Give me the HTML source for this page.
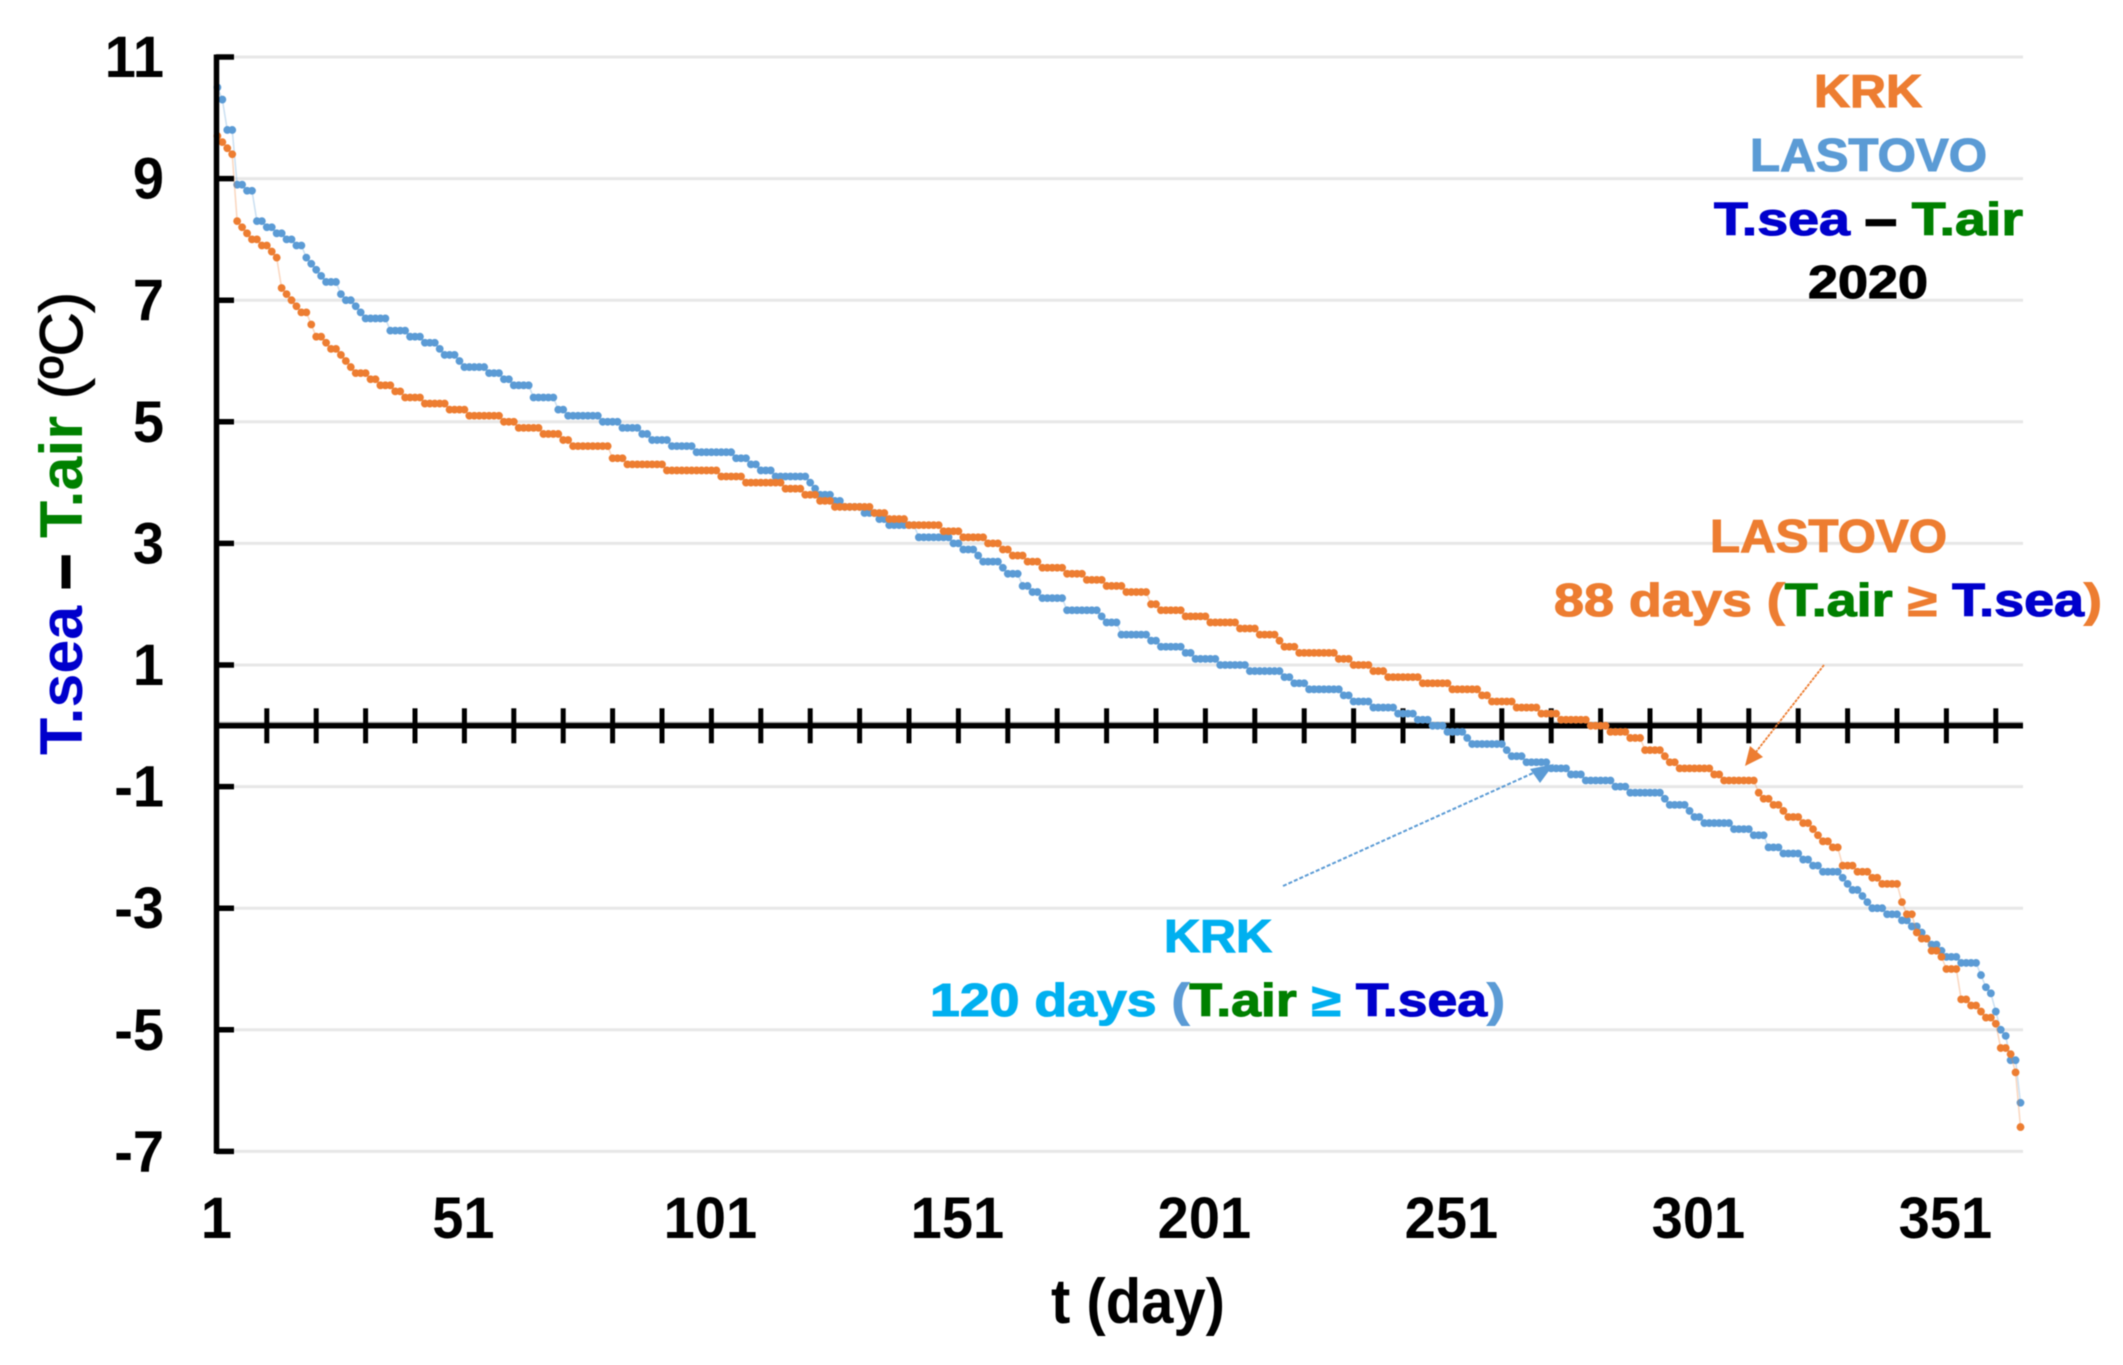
<!DOCTYPE html>
<html lang="en">
<head>
<meta charset="utf-8">
<title>T.sea - T.air 2020</title>
<style>
html,body{margin:0;padding:0;background:#fff;}
svg{display:block;filter:blur(.6px);}
text{font-family:"Liberation Sans",Arial,sans-serif;font-weight:bold;}
.heavy{stroke-width:1.1px;}
.o{fill:#ed7d31;stroke:#ed7d31;}
.lb{fill:#5b9bd5;stroke:#5b9bd5;}
.db{fill:#0000cc;stroke:#0000cc;}
.g{fill:#008000;stroke:#008000;}
.k{fill:#000;stroke:#000;}
.c{fill:#00b0f0;stroke:#00b0f0;}
</style>
</head>
<body>
<svg id="chart" xmlns="http://www.w3.org/2000/svg" width="2123" height="1365" viewBox="0 0 2123 1365">
  <rect width="2123" height="1365" fill="#fff"/>
  <g id="grid"></g>
  <g id="series"></g>
  <g id="axes"></g>

  <text transform="translate(1138,1323) scale(1,1.08)" text-anchor="middle" font-size="58" fill="#000">t (day)</text>

  <text transform="translate(82,755) rotate(-90)" font-size="60" textLength="463" lengthAdjust="spacingAndGlyphs"><tspan fill="#0000cc">T.sea</tspan><tspan fill="#000" stroke="#000" stroke-width="3"> – </tspan><tspan fill="#008000">T.air</tspan><tspan fill="#000" style="font-weight:normal" stroke="#000" stroke-width="1.2"> (ºC)</tspan></text>

  <text class="heavy o" x="1814" y="107" font-size="46" textLength="108" lengthAdjust="spacingAndGlyphs">KRK</text>
  <text class="heavy lb" x="1750" y="171" font-size="46" textLength="237" lengthAdjust="spacingAndGlyphs">LASTOVO</text>
  <text class="heavy" x="1714" y="235" font-size="46" textLength="309" lengthAdjust="spacingAndGlyphs"><tspan class="db">T.sea</tspan><tspan class="k" stroke-width="2.5"> – </tspan><tspan class="g">T.air</tspan></text>
  <text class="heavy k" x="1808" y="298" font-size="46" textLength="120" lengthAdjust="spacingAndGlyphs">2020</text>

  <text class="heavy o" x="1710" y="552" font-size="46" textLength="237" lengthAdjust="spacingAndGlyphs">LASTOVO</text>
  <text class="heavy" x="1554" y="616" font-size="46" textLength="548" lengthAdjust="spacingAndGlyphs"><tspan class="o">88 days (</tspan><tspan class="g">T.air</tspan><tspan class="o"> ≥ </tspan><tspan class="db">T.sea</tspan><tspan class="o">)</tspan></text>

  <text class="heavy c" x="1164" y="952" font-size="46" textLength="108" lengthAdjust="spacingAndGlyphs">KRK</text>
  <text class="heavy" x="930" y="1016" font-size="46" textLength="575" lengthAdjust="spacingAndGlyphs"><tspan class="c">120 days </tspan><tspan class="lb">(</tspan><tspan class="g">T.air</tspan><tspan class="c"> ≥ </tspan><tspan class="db">T.sea</tspan><tspan class="lb">)</tspan></text>

  <g>
    <line x1="1824" y1="665" x2="1752" y2="757" stroke="#ed7d31" stroke-width="1.8" stroke-dasharray="3 1"/>
    <polygon points="1745,766 1750,746 1763,757" fill="#ed7d31"/>
  </g>
  <g>
    <line x1="1283" y1="886" x2="1542" y2="769" stroke="#5b9bd5" stroke-width="2" stroke-dasharray="4 2"/>
    <polygon points="1554,764 1530,769 1540,783" fill="#5b9bd5"/>
  </g>
</svg>
<script>
const yTickValues = [11, 9, 7, 5, 3, 1, -1, -3, -5, -7];
const yTickLabels = ["11", "9", "7", "5", "3", "1", "-1", "-3", "-5", "-7"];
const xTickDays = [1, 51, 101, 151, 201, 251, 301, 351];
const xTickLabels = ["1", "51", "101", "151", "201", "251", "301", "351"];
const xMinorTickDays = [11,21,31,41,51,61,71,81,91,101,111,121,131,141,151,161,171,181,191,201,211,221,231,241,251,261,271,281,291,301,311,321,331,341,351,361];

/* Each series is stored as runs: value holds from the previous last-day + 1 to this last-day */
const lastovoLastDay = [1,2,4,6,8,10,12,14,16,18,19,20,21,22,25,26,28,29,30,35,39,42,45,46,49,50,55,58,60,64,69,71,78,82,86,88,92,97,105,108,110,113,120,121,122,125,127,131,134,136,142,149,151,154,155,159,160,163,165,167,172,179,180,183,189,191,196,198,203,209,216,218,221,228,230,234,239,243,246,249,253,254,261,262,265,270,274,277,283,286,293,294,298,299,301,307,311,314,317,321,323,325,329,330,331,333,334,335,338,341,343,345,346,347,349,350,353,357,358,359,360,361,362,363,365,366];
const lastovoValue = [10.5,10.3,9.8,8.9,8.8,8.3,8.2,8.1,8.0,7.9,7.7,7.6,7.5,7.4,7.3,7.1,7.0,6.9,6.8,6.7,6.5,6.4,6.3,6.2,6.1,6.0,5.9,5.8,5.7,5.6,5.4,5.2,5.1,5.0,4.9,4.8,4.7,4.6,4.5,4.4,4.3,4.2,4.1,4.0,3.9,3.8,3.7,3.6,3.5,3.4,3.3,3.1,3.0,2.9,2.8,2.7,2.6,2.5,2.3,2.2,2.1,1.9,1.8,1.7,1.5,1.4,1.3,1.2,1.1,1.0,0.9,0.8,0.7,0.6,0.5,0.4,0.3,0.2,0.1,0.0,-0.1,-0.2,-0.3,-0.4,-0.5,-0.6,-0.7,-0.8,-0.9,-1.0,-1.1,-1.2,-1.3,-1.4,-1.5,-1.6,-1.7,-1.8,-2.0,-2.1,-2.2,-2.3,-2.4,-2.5,-2.6,-2.7,-2.8,-2.9,-3.0,-3.1,-3.2,-3.3,-3.4,-3.5,-3.6,-3.7,-3.8,-3.9,-4.1,-4.3,-4.4,-4.7,-5.0,-5.1,-5.5,-6.2];

const krkLastDay = [1,2,3,4,5,6,7,9,11,12,13,14,15,16,17,19,20,22,23,25,26,27,28,31,33,36,38,42,47,51,58,61,66,70,72,80,83,91,102,107,115,119,122,125,133,136,140,147,151,156,159,161,164,167,172,176,180,184,189,191,196,201,207,211,215,216,219,227,230,234,237,244,250,256,258,263,268,272,278,282,286,289,293,294,296,303,305,312,313,315,317,318,321,323,324,325,327,329,332,335,337,341,342,344,345,347,349,350,353,355,357,358,360,361,363,364,365,366];
const krkValue = [9.7,9.6,9.5,9.4,8.3,8.2,8.1,8.0,7.9,7.8,7.7,7.2,7.1,7.0,6.9,6.8,6.6,6.4,6.3,6.2,6.1,6.0,5.9,5.8,5.7,5.6,5.5,5.4,5.3,5.2,5.1,5.0,4.9,4.8,4.7,4.6,4.4,4.3,4.2,4.1,4.0,3.9,3.8,3.7,3.6,3.5,3.4,3.3,3.2,3.1,3.0,2.9,2.8,2.7,2.6,2.5,2.4,2.3,2.2,2.0,1.9,1.8,1.7,1.6,1.5,1.4,1.3,1.2,1.1,1.0,0.9,0.8,0.7,0.6,0.5,0.4,0.3,0.2,0.1,0.0,-0.1,-0.2,-0.4,-0.5,-0.6,-0.7,-0.8,-0.9,-1.1,-1.2,-1.3,-1.4,-1.5,-1.6,-1.7,-1.8,-1.9,-2.0,-2.3,-2.4,-2.5,-2.6,-2.9,-3.1,-3.4,-3.5,-3.7,-3.8,-4.0,-4.5,-4.6,-4.7,-4.8,-4.9,-5.3,-5.4,-5.7,-6.6];

const NS = "http://www.w3.org/2000/svg";
const xScale = d => 217.4 + (d - 1) * 4.94;
const yScale = v => 57 + (11 - v) * 60.8;
const plotRight = 2023;

function mk(tag, parent, attrs) {
  const el = document.createElementNS(NS, tag);
  for (const k in attrs) el.setAttribute(k, attrs[k]);
  parent.appendChild(el);
  return el;
}

const gridG = document.getElementById("grid");
const axesG = document.getElementById("axes");
const seriesG = document.getElementById("series");

yTickValues.forEach((v, i) => {
  const y = yScale(v);
  const gl = mk("line", gridG, {x1: 217, x2: plotRight, y1: y, y2: y, stroke: "#e7e7e7", "stroke-width": 3});
  
  
  const tick = mk("line", axesG, {x1: 216, x2: 234, y1: y, y2: y, stroke: "#000", "stroke-width": 5.5});
  
  
  const label = mk("text", axesG, {transform: `translate(164,${y + 20}) scale(1,1.04)`, "text-anchor": "end", "font-size": 56, fill: "#000"});
  
  
  label.textContent = yTickLabels[i];
});

const yAxis = mk("line", axesG, {x1: 216.5, x2: 216.5, y1: 54.5, y2: 1153.5, stroke: "#000", "stroke-width": 5.5});



function expand(lastDays, values) {
  const pts = [];
  let day = 1;
  lastDays.forEach((last, i) => {
    for (; day <= last; day++) pts.push([day, values[i]]);
  });
  return pts;
}

function drawSeries(lastDays, values, color, name) {
  const pts = expand(lastDays, values);
  const g = mk("g", seriesG, {});
  
  
  const line = mk("polyline", g, {
    points: pts.map(p => xScale(p[0]) + "," + yScale(p[1])).join(" "),
    fill: "none", stroke: color, "stroke-width": 1.6, opacity: 0.3
  });
  
  
  pts.forEach(p => {
    const dot = mk("circle", g, {cx: xScale(p[0]), cy: yScale(p[1]), r: 3.9, fill: color});
    
    
  });
}

/* zero axis sits beneath the series */
const zeroShade = mk("line", gridG, {x1: 217, x2: plotRight, y1: yScale(0) - 3, y2: yScale(0) - 3, stroke: "#aaa", "stroke-width": 2});


const zeroAxis = mk("line", gridG, {x1: 217, x2: plotRight, y1: yScale(0), y2: yScale(0), stroke: "#000", "stroke-width": 5.5});


xMinorTickDays.forEach(d => {
  const t = mk("line", gridG, {x1: xScale(d), x2: xScale(d), y1: yScale(0) - 17.5, y2: yScale(0) + 17.5, stroke: "#000", "stroke-width": 5});
  
  
});

xTickDays.forEach((d, i) => {
  const label = mk("text", axesG, {transform: `translate(${xScale(d) - 1},1238) scale(1,1.04)`, "text-anchor": "middle", "font-size": 56, fill: "#000"});
  
  
  label.textContent = xTickLabels[i];
});

drawSeries(lastovoLastDay, lastovoValue, "#5b9bd5", "series-lastovo");
drawSeries(krkLastDay, krkValue, "#ed7d31", "series-krk");
</script>
</body>
</html>
